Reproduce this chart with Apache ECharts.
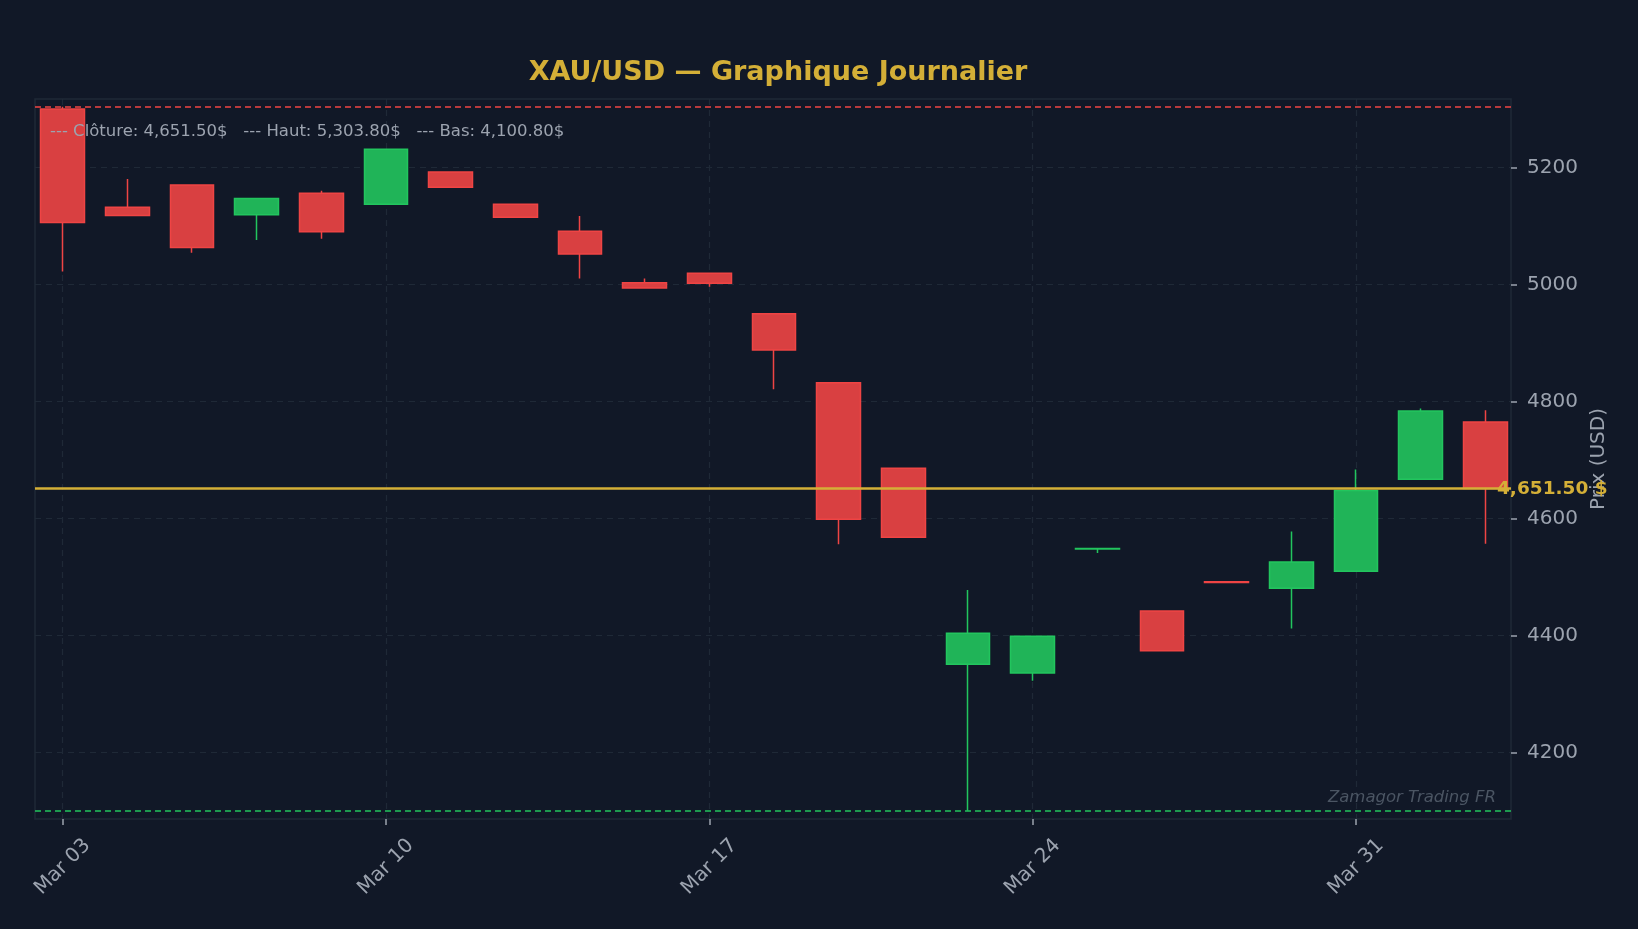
<!DOCTYPE html>
<html>
<head>
<meta charset="utf-8">
<script src="https://cdn.jsdelivr.net/npm/echarts@6/dist/echarts.min.js"></script>
<style>
html,body{margin:0;padding:0;background:#111827;}
#chart{width:1638px;height:929px;}
</style>
</head>
<body>
<div id="chart"></div>
<script>
const dates = ['Mar 03','Mar 04','Mar 05','Mar 06','Mar 07','Mar 10','Mar 11','Mar 12','Mar 13','Mar 14',
  'Mar 17','Mar 18','Mar 19','Mar 20','Mar 21','Mar 24','Mar 25','Mar 26','Mar 27','Mar 28','Mar 31','Apr 01','Apr 02'];
const openVals  = [5300, 5132, 5170, 5119, 5156, 5137, 5192, 5137, 5091, 5003, 5019, 4950, 4832, 4686, 4351, 4336, 4548, 4442, 4492, 4481, 4510, 4667, 4765];
const closeVals = [5106, 5118, 5063, 5147, 5090, 5231, 5166, 5115, 5052, 4994, 5002, 4888, 4599, 4568, 4404, 4399, 4549, 4374, 4491, 4526, 4648, 4784, 4651.5];
const lowVals   = [5022, 5117, 5054, 5076, 5078, 5136, 5165, 5114, 5010, 4993, 4996, 4821, 4556, 4567, 4100.8, 4323, 4541, 4373, 4490.5, 4412, 4509, 4666, 4557];
const highVals  = [5303.8, 5180, 5171, 5148, 5160, 5232, 5193, 5138, 5117, 5010, 5020, 4951, 4833, 4687, 4478, 4400, 4550, 4443, 4492.5, 4578, 4684, 4788, 4785];
const xTickIdx = [0, 5, 10, 15, 20];
const yTicks = [4200, 4400, 4600, 4800, 5000, 5200];
const lastClose = 4651.5;
const periodHigh = 5303.8;
const periodLow = 4100.8;
const titleText = 'XAU/USD — Graphique Journalier';
const infoText = '--- Clôture: 4,651.50$   --- Haut: 5,303.80$   --- Bas: 4,100.80$';
const closeLabel = '4,651.50 $';
const watermark = 'Zamagor Trading FR';

const candleData = dates.map((d, i) => [i, openVals[i], closeVals[i], lowVals[i], highVals[i]]);

const chart = echarts.init(document.getElementById('chart'), null, {renderer: 'canvas'});
const FONT = 'DejaVu Sans';
chart.setOption({
  backgroundColor: '#111827',
  animation: false,
  textStyle: {fontFamily: FONT},
  title: {
    text: titleText,
    left: 773, textAlign: 'center', top: 54,
    textStyle: {color: '#d4af37', fontSize: 27, fontWeight: 'bold', fontFamily: FONT}
  },
  grid: {
    left: 35, top: 99, width: 1476, height: 720,
    show: true, borderColor: '#1f2937', borderWidth: 1.5, backgroundColor: 'transparent'
  },
  xAxis: {
    type: 'value',
    min: -0.428, max: 22.396,
    axisLine: {show: false, onZero: false},
    axisTick: {show: true, length: 6, lineStyle: {color: '#9ca3af', width: 1.5}, customValues: xTickIdx},
    axisLabel: {
      customValues: xTickIdx,
      formatter: v => dates[Math.round(v)] || '',
      rotate: 45, align: 'center', verticalAlign: 'middle', margin: 48,
      color: '#9ca3af', fontSize: 20, fontFamily: FONT
    },
    splitLine: {show: true, lineStyle: {color: '#1f2937', width: 1.2, type: [6, 5]}}
  },
  yAxis: {
    type: 'value',
    position: 'right',
    min: 4086.7, max: 5316.9,
    name: 'Prix (USD)', nameLocation: 'middle', nameRotate: 90, nameGap: 62,
    nameTextStyle: {color: '#9ca3af', fontSize: 20, fontFamily: FONT},
    axisLine: {show: false, onZero: false},
    axisTick: {show: true, length: 6, lineStyle: {color: '#9ca3af', width: 1.5}, customValues: yTicks},
    axisLabel: {customValues: yTicks, formatter: v => String(Math.round(v)), color: '#9ca3af', fontSize: 20, margin: 16, fontFamily: FONT},
    splitLine: {show: true, lineStyle: {color: '#1f2937', width: 1.2, type: [6, 5]}}
  },
  series: [{
    type: 'candlestick',
    data: candleData,
    barWidth: 44,
    z: 2,
    itemStyle: {
      color: '#20b458', color0: '#d94041',
      borderColor: '#22c55e', borderColor0: '#ef4444', borderWidth: 1.5
    },
    markLine: {
      symbol: 'none', silent: true, animation: false,
      data: [
        {yAxis: periodHigh, lineStyle: {color: '#ef4444', type: [6, 4], width: 1.5}, label: {show: false}},
        {yAxis: periodLow, lineStyle: {color: '#22c55e', type: [6, 4], width: 1.5}, label: {show: false}},
        {yAxis: lastClose, lineStyle: {color: '#d4af37', type: 'solid', width: 2.5},
          label: {show: true, position: 'end', formatter: closeLabel, color: '#d4af37',
            fontSize: 18.5, fontWeight: 'bold', fontFamily: FONT, distance: 0, offset: [-14, 1]}}
      ]
    }
  }],
  graphic: [
    {type: 'text', z: 100, zlevel: 1, left: 50, top: 123, style: {text: infoText, fill: '#9ca3af', font: '16.5px "DejaVu Sans"'}},
    {type: 'text', z: 100, zlevel: 1, right: 142, top: 789, style: {text: watermark, fill: '#4b5563', font: 'italic 16.5px "DejaVu Sans"'}}
  ]
});
</script>
</body>
</html>
